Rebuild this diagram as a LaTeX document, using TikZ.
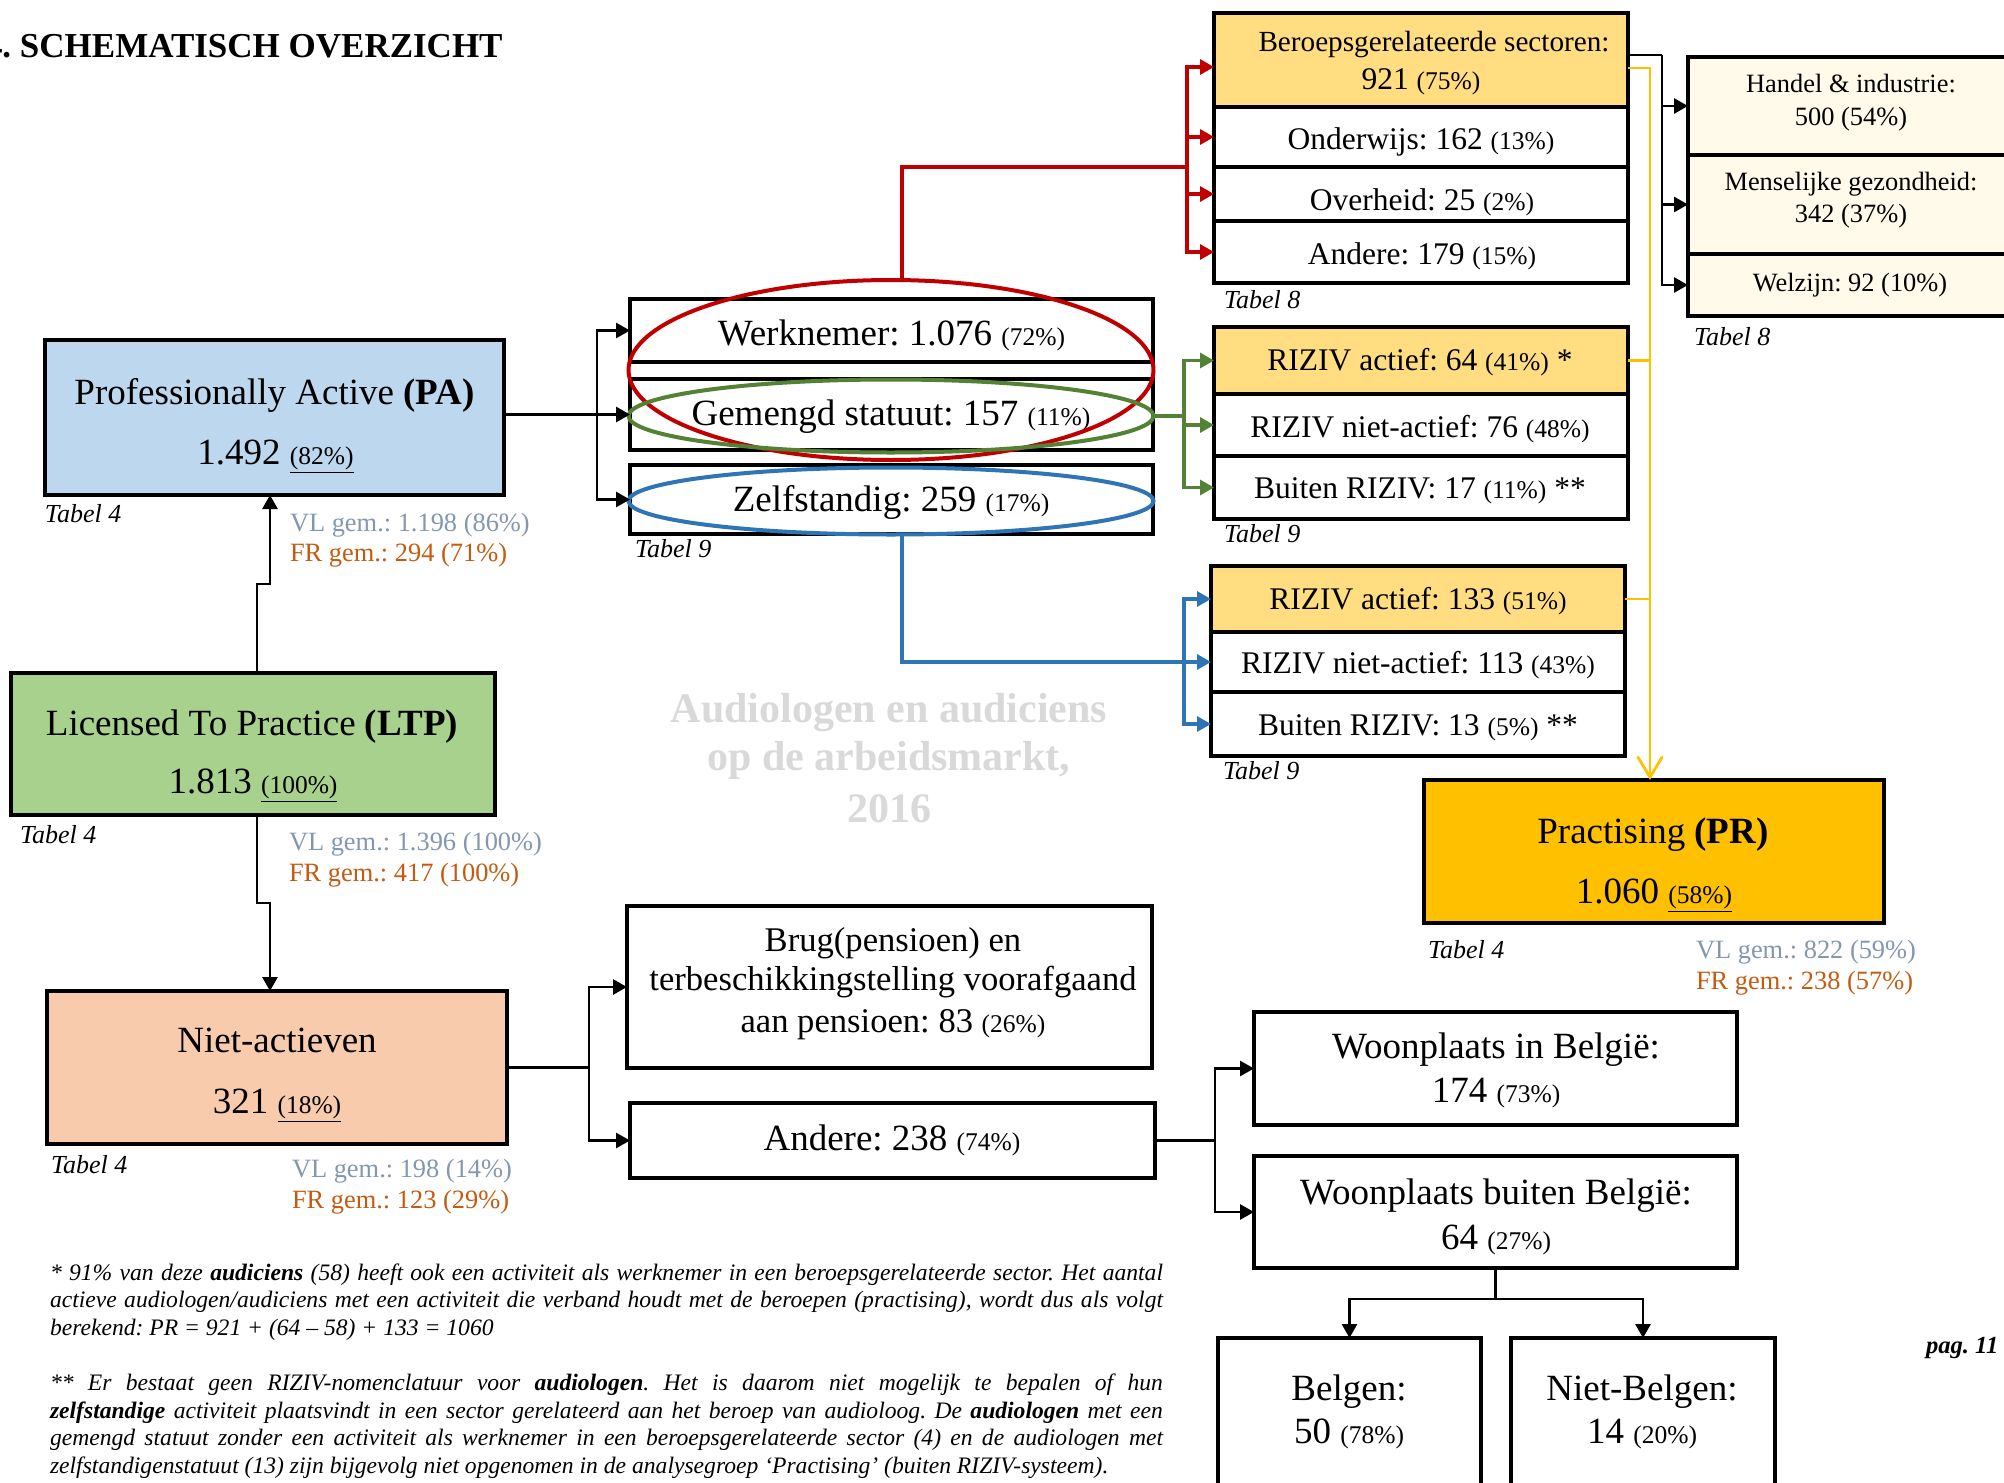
\documentclass[tikz,border=0pt]{standalone}
\usepackage{fontspec}
\setmainfont{Liberation Serif}
\usetikzlibrary{fit,shapes.geometric,arrows.meta}
\frenchspacing
\definecolor{paBlue}{HTML}{BDD7EE}
\definecolor{ltpGreen}{HTML}{A9D18E}
\definecolor{naPeach}{HTML}{F8CBAD}
\definecolor{prGold}{HTML}{FFC000}
\definecolor{ltGold}{HTML}{FFDD80}
\definecolor{cream}{HTML}{FFFAEA}
\definecolor{redC}{HTML}{C00000}
\definecolor{greenC}{HTML}{548235}
\definecolor{blueC}{HTML}{2E75B6}
\definecolor{vlC}{HTML}{8497B0}
\definecolor{frC}{HTML}{C55A11}
\definecolor{wmC}{HTML}{D9D9D9}
\newcommand\szM{\fontsize{18.5}{22}\selectfont}
\newcommand\szP{\fontsize{12.75}{15}\selectfont}
\newcommand\szR{\fontsize{15.75}{19}\selectfont}
\newcommand\szB{\fontsize{14.6}{18}\selectfont}
\newcommand\szH{\fontsize{13.2}{16}\selectfont}
\newcommand\szT{\fontsize{13}{16}\selectfont\itshape}
\newcommand\szV{\fontsize{13.2}{16}\selectfont}
\newcommand\szG{\fontsize{17.3}{20}\selectfont}
\newcommand\szF{\fontsize{11.8}{13.75}\selectfont\itshape}
\begin{document}
\frenchspacing
\begin{tikzpicture}[x=0.5pt,y=-0.5pt,
  box/.style={draw=black, line width=1.8pt, inner sep=0pt, outer sep=0pt},
  bigbox/.style={box, line width=2.2pt},
  conn/.style={draw=black, line width=1.4pt},
  arr/.style={conn, -{Triangle[length=7pt,width=7.5pt]}},
  redline/.style={draw=redC, line width=1.6pt},
  redarr/.style={redline, -{Triangle[length=7pt,width=7.5pt]}},
  greenline/.style={draw=greenC, line width=1.6pt},
  greenarr/.style={greenline, -{Triangle[length=7pt,width=7.5pt]}},
  blueline/.style={draw=blueC, line width=1.6pt},
  bluearr/.style={blueline, -{Triangle[length=7pt,width=7.5pt]}},
  goldline/.style={draw=prGold, line width=1.4pt},
  goldarr/.style={goldline, -{Straight Barb[length=10pt,width=12pt,line cap=round]}},
  ell/.style={ellipse, line width=2pt, inner sep=0pt, outer sep=0pt, minimum width=262.5pt},
  lbl/.style={anchor=base, inner sep=0pt, outer sep=0pt},
  lblw/.style={anchor=base west, inner sep=0pt, outer sep=0pt}]
\useasboundingbox (0,0) rectangle (2004,1483);
\fill[white] (0,0) rectangle (2004,1483);

% title
\node[lblw] (title) at (-15,57) {\fontsize{17.5}{20}\selectfont\bfseries 4. SCHEMATISCH OVERZICHT};

% watermark
\node[lbl] (wm1) at (889,722) {\fontsize{21}{24}\selectfont\bfseries\color{wmC}Audiologen en audiciens};
\node[lbl] (wm2) at (889,770) {\fontsize{21}{24}\selectfont\bfseries\color{wmC}op de arbeidsmarkt,};
\node[lbl] (wm3) at (889,822) {\fontsize{21}{24}\selectfont\bfseries\color{wmC}2016};

% main boxes
\node[bigbox, fill=paBlue, fit={(45,340) (504,495)}] (pa) {};
\node[bigbox, fill=ltpGreen, fit={(11,673) (495,815)}] (ltp) {};
\node[bigbox, fill=naPeach, fit={(47,991) (507,1144)}] (na) {};
\node[bigbox, fill=prGold, fit={(1424,780) (1884,923)}] (pr) {};

\node[lbl] (pa1) at (274.5,404) {\szM Professionally Active \textbf{(PA)}};
\node[lbl] (pa2) at (275.5,464) {\szM 1.492 \underline{\szP(82\%)}};
\node[lblw] (pa3) at (45,522) {\szT Tabel 4};
\node[lblw] (pa4) at (290,531) {\szV\color{vlC}VL gem.: 1.198 (86\%)};
\node[lblw] (pa5) at (290,561) {\szV\color{frC}FR gem.: 294 (71\%)};

\node[lbl] (ltp1) at (252,735) {\szM Licensed To Practice \textbf{(LTP)}};
\node[lbl] (ltp2) at (253,793) {\szM 1.813 \underline{\szP(100\%)}};
\node[lblw] (ltp3) at (20,843) {\szT Tabel 4};
\node[lblw] (ltp4) at (289,850) {\szV\color{vlC}VL gem.: 1.396 (100\%)};
\node[lblw] (ltp5) at (289,881) {\szV\color{frC}FR gem.: 417 (100\%)};

\node[lbl] (na1) at (277,1052) {\szM Niet-actieven};
\node[lbl] (na2) at (277,1113) {\szM 321 \underline{\szP(18\%)}};
\node[lblw] (na3) at (51,1173) {\szT Tabel 4};
\node[lblw] (na4) at (292,1177) {\szV\color{vlC}VL gem.: 198 (14\%)};
\node[lblw] (na5) at (292,1208) {\szV\color{frC}FR gem.: 123 (29\%)};

\node[lbl] (pr1) at (1653,843) {\szM Practising \textbf{(PR)}};
\node[lbl] (pr2) at (1654,903) {\szM 1.060 \underline{\szP(58\%)}};
\node[lblw] (pr3) at (1428,958) {\szT Tabel 4};
\node[lblw] (pr4) at (1696,958) {\szV\color{vlC}VL gem.: 822 (59\%)};
\node[lblw] (pr5) at (1696,989) {\szV\color{frC}FR gem.: 238 (57\%)};

% statute boxes
\node[box, fit={(630,299) (1153,362)}] (wk) {};
\node[box, fit={(630,379) (1153,450)}] (gs) {};
\node[box, fit={(630,465) (1153,534)}] (zs) {};
\node[lbl] (wk1) at (891.5,345) {\szM Werknemer: 1.076 {\szP(72\%)}};
\node[lbl] (gs1) at (891,425) {\szM Gemengd statuut: 157 {\szP(11\%)}};
\node[lbl] (zs1) at (891,511) {\szM Zelfstandig: 259 {\szP(17\%)}};
\node[lblw] (zs2) at (635,557) {\szT Tabel 9};

% sectors
\node[box, fill=ltGold, fit={(1214,13) (1628,107)}] (ber) {};
\node[box, fit={(1214,107) (1628,167)}] (ond) {};
\node[box, fit={(1214,167) (1628,221)}] (ovh) {};
\node[box, fit={(1214,221) (1628,283)}] (and8) {};
\node[lbl] (ber1) at (1434,51) {\szB Beroepsgerelateerde sectoren:};
\node[lbl] (ber2) at (1421,89) {\szR 921 {\szP(75\%)}};
\node[lbl] (ond1) at (1421,149) {\szR Onderwijs: 162 {\szP(13\%)}};
\node[lbl] (ovh1) at (1422,210) {\szR Overheid: 25 {\szP(2\%)}};
\node[lbl] (and81) at (1422,264) {\szR Andere: 179 {\szP(15\%)}};
\node[lblw] (and82) at (1224,308) {\szT Tabel 8};

\node[box, fill=cream, fit={(1688,57) (2014,155)}] (han) {};
\node[box, fill=cream, fit={(1688,155) (2014,254)}] (men) {};
\node[box, fill=cream, fit={(1688,254) (2014,316)}] (wel) {};
\node[lbl] (han1) at (1851,92) {\szH Handel \& industrie:};
\node[lbl] (han2) at (1851,125) {\szH 500 (54\%)};
\node[lbl] (men1) at (1851,190) {\szH Menselijke gezondheid:};
\node[lbl] (men2) at (1851,222) {\szH 342 (37\%)};
\node[lbl] (wel1) at (1850,291) {\szH Welzijn: 92 (10\%)};
\node[lblw] (wel2) at (1694,345) {\szT Tabel 8};

% RIZIV (mixed)
\node[box, fill=ltGold, fit={(1214,327) (1628,394)}] (r64) {};
\node[box, fit={(1214,394) (1628,456)}] (r76) {};
\node[box, fit={(1214,456) (1628,519)}] (r17) {};
\node[lbl] (r641) at (1420,370) {\szR RIZIV actief: 64 {\szP(41\%)} *};
\node[lbl] (r761) at (1420,437) {\szR RIZIV niet-actief: 76 {\szP(48\%)}};
\node[lbl] (r171) at (1420,498) {\szR Buiten RIZIV: 17 {\szP(11\%)} **};
\node[lblw] (r172) at (1224,542) {\szT Tabel 9};

% RIZIV (self-employed)
\node[box, fill=ltGold, fit={(1211,566) (1625,632)}] (r133) {};
\node[box, fit={(1211,632) (1625,692)}] (r113) {};
\node[box, fit={(1211,692) (1625,756)}] (r13) {};
\node[lbl] (r1331) at (1418,609) {\szR RIZIV actief: 133 {\szP(51\%)}};
\node[lbl] (r1131) at (1418,673) {\szR RIZIV niet-actief: 113 {\szP(43\%)}};
\node[lbl] (r131) at (1418,735) {\szR Buiten RIZIV: 13 {\szP(5\%)} **};
\node[lblw] (r132) at (1223,779) {\szT Tabel 9};

% non-active branch
\node[box, fit={(627,906) (1152,1068)}] (brug) {};
\node[box, fit={(630,1103) (1155,1178)}] (andr) {};
\node[lbl] (brug1) at (893,951) {\szG Brug(pensioen) en};
\node[lbl] (brug2) at (893,990) {\szG terbeschikkingstelling voorafgaand};
\node[lbl] (brug3) at (893,1032) {\szG aan pensioen: 83 {\szP(26\%)}};
\node[lbl] (andr1) at (892,1150) {\szM Andere: 238 {\szP(74\%)}};

\node[box, fit={(1254,1012) (1737,1125)}] (wib) {};
\node[box, fit={(1254,1156) (1737,1268)}] (wbb) {};
\node[lbl] (wib1) at (1496,1058) {\szM Woonplaats in België:};
\node[lbl] (wib2) at (1496,1102) {\szM 174 {\szP(73\%)}};
\node[lbl] (wbb1) at (1496,1204) {\szM Woonplaats buiten België:};
\node[lbl] (wbb2) at (1496,1249) {\szM 64 {\szP(27\%)}};

\node[box, fit={(1218,1338) (1481,1500)}] (bel) {};
\node[box, fit={(1511,1338) (1775,1500)}] (nbel) {};
\node[lbl] (bel1) at (1349,1400) {\szM Belgen:};
\node[lbl] (bel2) at (1349,1443) {\szM 50 {\szP(78\%)}};
\node[lbl] (nbel1) at (1642,1400) {\szM Niet-Belgen:};
\node[lbl] (nbel2) at (1642,1443) {\szM 14 {\szP(20\%)}};

\node[lblw] (pag) at (1926,1353) {\fontsize{12.3}{14}\selectfont\bfseries\itshape pag. 11};

% footnotes
\node[lblw] (f1) at (50,1280) {\szF\hbox to 556.5pt{* 91\% van deze \textbf{audiciens} (58) heeft ook een activiteit als werknemer in een beroepsgerelateerde sector. Het aantal}};
\node[lblw] (f2) at (50,1307) {\szF\hbox to 556.5pt{actieve audiologen/audiciens met een activiteit die verband houdt met de beroepen (practising), wordt dus als volgt}};
\node[lblw] (f3) at (50,1335) {\szF berekend: PR = 921 + (64 – 58) + 133 = 1060};
\node[lblw] (f4) at (50,1390) {\szF\hbox to 556.5pt{** Er bestaat geen RIZIV-nomenclatuur voor \textbf{audiologen}. Het is daarom niet mogelijk te bepalen of hun}};
\node[lblw] (f5) at (50,1418) {\szF\hbox to 556.5pt{\textbf{zelfstandige} activiteit plaatsvindt in een sector gerelateerd aan het beroep van audioloog. De \textbf{audiologen} met een}};
\node[lblw] (f6) at (50,1445) {\szF\hbox to 556.5pt{gemengd statuut zonder een activiteit als werknemer in een beroepsgerelateerde sector (4) en de audiologen met}};
\node[lblw] (f7) at (50,1473) {\szF zelfstandigenstatuut (13) zijn bijgevolg niet opgenomen in de analysegroep ‘Practising’ (buiten RIZIV-systeem).};

% ellipses
\node[ell, draw=redC, minimum height=90pt] (ered) at (891,370) {};
\node[ell, draw=greenC, minimum height=36.5pt] (egr) at (891,416) {};
\node[ell, draw=blueC, minimum height=33.5pt] (eblu) at (891,501) {};

% black connectors
\coordinate (u1) at (257,584); \coordinate (u2) at (270,584);
\draw[arr] (u1 |- ltp.north) -- (u1) -- (u2) -- (u2 |- pa.south);
\coordinate (d1) at (257,903); \coordinate (d2) at (270,903);
\draw[arr] (d1 |- ltp.south) -- (d1) -- (d2) -- (d2 |- na.north);
\coordinate (pj) at (597,414.5);
\draw[arr] (pa.east |- gs.west) -- (gs.west);
\draw[arr] (pj) |- (wk.west);
\draw[arr] (pj) |- (zs.west);
\coordinate (nj) at (589,1067.5);
\draw[conn] (na.east) -- (nj);
\draw[arr] (nj) |- (brug.west);
\draw[arr] (nj) |- (andr.west);
\coordinate (aj) at (1215,1140.5);
\draw[conn] (andr.east) -- (aj);
\draw[arr] (aj) |- (wib.west);
\draw[arr] (aj) |- (wbb.west);
\coordinate (wj) at (1495.5,1299);
\draw[conn] (wbb.south) -- (wj);
\draw[arr] (wj) -| (bel.north);
\draw[arr] (wj) -| (nbel.north);
\coordinate (bk) at (1662,55);
\draw[conn] (ber.east |- bk) -- (bk);
\draw[arr] (bk) |- (han.west);
\draw[arr] (bk) |- (men.west);
\draw[arr] (bk) |- (wel.west);

% red connectors
\coordinate (rA) at (902,167); \coordinate (rB) at (1187,167); \coordinate (rT) at (1187,67);
\draw[redline] (rA |- ered.north) -- (rA) -- (rB);
\draw[redarr] (rB) -- (rT) -- (rT -| ber.west);
\draw[redarr] (rB) |- (ond.west);
\draw[redarr] (rB) |- (ovh.west);
\draw[redarr] (rB) |- (and8.west);

% green connectors
\coordinate (gA) at (1184,416);
\draw[greenline] (egr.east) -- (gA);
\draw[greenarr] (gA) |- (r64.west);
\draw[greenarr] (gA) |- (r76.west);
\draw[greenarr] (gA) |- (r17.west);

% blue connectors
\coordinate (bA) at (902,662); \coordinate (bB) at (1184,662);
\draw[blueline] (bA |- eblu.south) -- (bA) -- (bB);
\draw[bluearr] (bB) |- (r133.west);
\draw[bluearr] (bB) |- (r113.west);
\draw[bluearr] (bB) |- (r13.west);

% gold connectors
\coordinate (gd) at (1650,68);
\draw[goldarr] (ber.east |- gd) -- (gd) -- (gd |- pr.north);
\draw[goldline] (r64.east) -- (r64.east -| gd);
\draw[goldline] (r133.east) -- (r133.east -| gd);
\end{tikzpicture}
\end{document}
